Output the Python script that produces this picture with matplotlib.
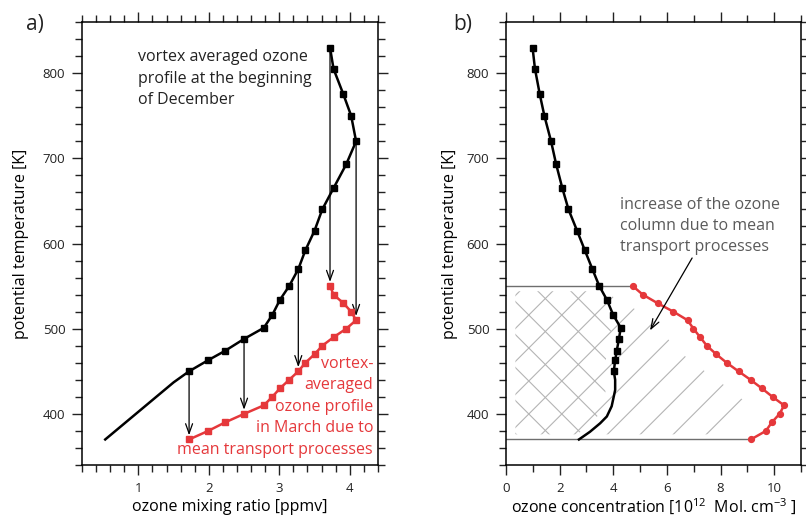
import numpy as np
import matplotlib
matplotlib.use('Agg')
import matplotlib.pyplot as plt
from matplotlib.patches import Polygon
from matplotlib.ticker import MultipleLocator

plt.rcParams['font.family'] = ['Open Sans', 'DejaVu Sans']
plt.rcParams['mathtext.fontset'] = 'custom'
plt.rcParams['mathtext.rm'] = 'Open Sans'
plt.rcParams['mathtext.default'] = 'regular'

# ---------------- data ----------------
# panel a: ozone mixing ratio (ppmv)
mix_ratio = [3.72, 3.77, 3.91, 4.02, 4.09, 3.95, 3.77, 3.61, 3.50, 3.37,
             3.27, 3.14, 3.01, 2.90, 2.78, 2.50, 2.23, 1.99, 1.72]
theta_dec = [830, 805, 775, 750, 720, 693, 665, 640, 615, 592,
             570, 550, 534, 516, 501, 488, 474, 463, 450]
theta_mar = [550, 540, 530, 520, 510, 500, 490, 480, 470, 460,
             450, 440, 430, 420, 410, 400, 390, 380, 370]
tail_mix = [1.72, 1.50, 0.53]
tail_mix_theta = [450, 437, 370]
arrow_idx = [0, 4, 10, 15, 18]

# panel b: ozone concentration (1e12 molecules cm-3)
conc_dec = [0.99, 1.08, 1.26, 1.43, 1.68, 1.87, 2.10, 2.33, 2.65, 2.94,
            3.22, 3.48, 3.76, 4.00, 4.28, 4.21, 4.13, 4.07, 4.02]
tail_conc = [4.02, 4.07, 4.07, 3.94, 3.76, 3.51, 3.13, 2.72]
tail_conc_theta = [450, 440, 428, 409, 397, 389, 379, 370]
conc_mar = [4.73, 5.10, 5.65, 6.24, 6.77, 6.99, 7.24, 7.49, 7.84, 8.23,
            8.67, 9.12, 9.54, 9.94, 10.37, 10.20, 9.91, 9.69, 9.13]

RED = '#e5383b'
GRAY_HATCH = '#b4b4b4'

fig = plt.figure(figsize=(8.06, 5.19), dpi=100)
axA = fig.add_axes([0.1017, 0.104, 0.3672, 0.8536])
axB = fig.add_axes([0.6278, 0.104, 0.366, 0.8536])


def style_axes(ax, ypad):
    for s in ax.spines.values():
        s.set_linewidth(1.1)
    ax.tick_params(which='both', direction='out', top=True, right=True,
                   labelsize=9.5, width=1.0, pad=5, colors='#222222')
    ax.tick_params(which='major', length=7)
    ax.tick_params(which='minor', length=5)
    ax.set_ylim(340, 860)
    ax.yaxis.set_major_locator(MultipleLocator(100))
    ax.yaxis.set_minor_locator(MultipleLocator(20))
    ax.set_ylabel('potential temperature [K]', fontsize=11.5, labelpad=ypad)


# ---------------- panel a ----------------
style_axes(axA, 10)
axA.set_xlim(0.2, 4.4)
axA.xaxis.set_major_locator(MultipleLocator(1))
axA.xaxis.set_minor_locator(MultipleLocator(0.2))
axA.set_xlabel('ozone mixing ratio [ppmv]', fontsize=11.5, labelpad=3)

axA.plot(tail_mix, tail_mix_theta, color='black', lw=1.8, zorder=3)
axA.plot(mix_ratio, theta_dec, color='black', lw=1.8, marker='s', ms=4.5, zorder=4)
axA.plot(mix_ratio, theta_mar, color=RED, lw=1.8, marker='s', ms=4.5, zorder=4)

for i in arrow_idx:
    axA.annotate('', xy=(mix_ratio[i], theta_mar[i]), xytext=(mix_ratio[i], theta_dec[i]),
                 arrowprops=dict(arrowstyle='->,head_length=0.7,head_width=0.25',
                                 lw=0.9, color='black', shrinkA=0, shrinkB=3),
                 zorder=2)

axA.text(1.0, 828, 'vortex averaged ozone\nprofile at the beginning\nof December',
         fontsize=11.5, va='top', ha='left', linespacing=1.45, color='#222222')
axA.text(4.33, 468, 'vortex-\naveraged\nozone profile\nin March due to\nmean transport processes',
         fontsize=11.5, va='top', ha='right', multialignment='right',
         linespacing=1.45, color=RED)

# ---------------- panel b ----------------
style_axes(axB, 6)
axB.set_xlim(0, 11)
axB.xaxis.set_major_locator(MultipleLocator(2))
axB.xaxis.set_minor_locator(MultipleLocator(1))
axB.set_xlabel('ozone concentration [10$^{12}$  Mol. cm$^{-3}$ ]', fontsize=11.5, labelpad=2)

# hatch (decorative) lines clipped to the regions
bx = np.array(conc_dec[11:] + tail_conc[1:])
by = np.array(theta_dec[11:] + tail_conc_theta[1:])
order = np.argsort(by)
levels = np.linspace(376, 544, 60)
black_at = np.interp(levels, by[order], bx[order])
red_order = np.argsort(theta_mar)
red_at = np.interp(levels, np.array(theta_mar)[red_order], np.array(conc_mar)[red_order])

left_poly = [(0.35, levels[0])] + list(zip(black_at - 0.35, levels)) + [(0.35, levels[-1])]
right_poly = [(0.35, levels[0])] + list(zip(np.maximum(red_at - 1.25, 0.4), levels)) + [(0.35, levels[-1])]
clipL = Polygon(left_poly, closed=True, transform=axB.transData, fill=False, visible=False)
clipR = Polygon(right_poly, closed=True, transform=axB.transData, fill=False, visible=False)
axB.add_patch(clipL)
axB.add_patch(clipR)

slope = (0.366 * 806 / 11) / (0.8536 * 519 / 520)
step = 1.23
xs = np.array([-2.0, 13.0])
for k in range(-12, 12):
    x0 = 6.05 + k * step
    ln, = axB.plot(xs, 370 + slope * (xs - x0), color=GRAY_HATCH, lw=0.8, zorder=1)
    ln.set_clip_path(clipR)
    x1 = 1.80 + k * step
    ln2, = axB.plot(xs, 370 - slope * (xs - x1), color=GRAY_HATCH, lw=0.8, zorder=1)
    ln2.set_clip_path(clipL)

axB.plot([0, conc_mar[0]], [theta_mar[0], theta_mar[0]], color='#6e6e6e', lw=1.0, zorder=2)
axB.plot([0, conc_mar[-1]], [theta_mar[-1], theta_mar[-1]], color='#6e6e6e', lw=1.0, zorder=2)

axB.plot(tail_conc, tail_conc_theta, color='black', lw=1.8, zorder=3)
axB.plot(conc_dec, theta_dec, color='black', lw=1.8, marker='s', ms=3.8, zorder=4)
axB.plot(conc_mar, theta_mar, color=RED, lw=1.8, marker='o', ms=4.2, zorder=4)

axB.text(4.25, 655, 'increase of the ozone\ncolumn due to mean\ntransport processes',
         fontsize=11.5, va='top', ha='left', linespacing=1.45, color='#5a5a5a')
axB.annotate('', xy=(5.37, 498), xytext=(6.94, 583),
             arrowprops=dict(arrowstyle='->,head_length=0.7,head_width=0.25',
                             lw=0.9, color='black', shrinkA=0, shrinkB=0), zorder=5)

fig.text(0.032, 0.952, 'a)', fontsize=15, va='center', ha='left', color='#222222')
fig.text(0.562, 0.952, 'b)', fontsize=15, va='center', ha='left', color='#222222')

fig.savefig('out.png', dpi=100)
